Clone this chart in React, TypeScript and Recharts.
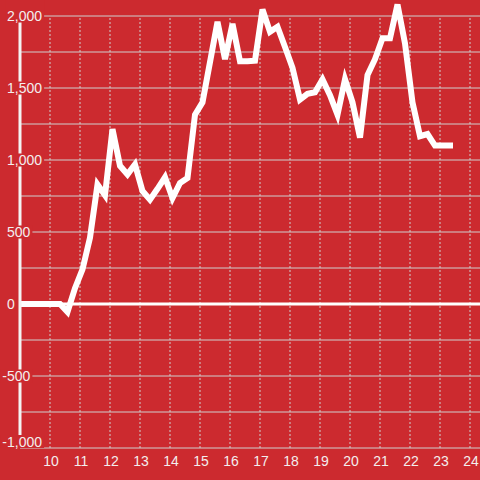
import React from 'react';
import { LineChart, Line, XAxis, YAxis, CartesianGrid, ReferenceLine } from 'recharts';

const BG = '#cc2a2f';
const TEXT = '#f3eeee';
const GRID = '#cfcfcf';
const FONT = '"Liberation Sans", Arial, sans-serif';

// 15-minute readings, hour:minute
const TIMES = [
  '9:05', '9:20', '9:35', '9:50', '10:05', '10:20', '10:35', '10:50',
  '11:05', '11:20', '11:35', '11:50', '12:05', '12:20', '12:35', '12:50',
  '13:05', '13:20', '13:35', '13:50', '14:05', '14:20', '14:35', '14:50',
  '15:05', '15:20', '15:35', '15:50', '16:05', '16:20', '16:35', '16:50',
  '17:05', '17:20', '17:35', '17:50', '18:05', '18:20', '18:35', '18:50',
  '19:05', '19:20', '19:35', '19:50', '20:05', '20:20', '20:35', '20:50',
  '21:05', '21:20', '21:35', '21:50', '22:05', '22:20', '22:35', '22:50',
  '23:05', '23:20',
];

const VALUES = [
  0, 0, 0, 0, 0, 0, -55, 110,
  240, 460, 830, 755, 1215, 960, 900, 970,
  785, 725, 800, 880, 735, 840, 875, 1315,
  1400, 1680, 1960, 1700, 1945, 1685, 1685, 1690,
  2045, 1890, 1925, 1785, 1640, 1420, 1460, 1470,
  1560, 1450, 1315, 1560, 1400, 1155, 1590, 1700,
  1845, 1845, 2080, 1810, 1400, 1165, 1180, 1100,
  1100, 1100,
];

const X_TICKS = [10, 11, 12, 13, 14, 15, 16, 17, 18, 19, 20, 21, 22, 23, 24];
const Y_TICKS = [-1000, -750, -500, -250, 0, 250, 500, 750, 1000, 1250, 1500, 1750, 2000];
const Y_LABEL_STEP = 500;

const toHours = (t: string) => {
  const [h, m] = t.split(':').map(Number);
  return h + m / 60;
};

const data = TIMES.map((t, i) => ({ t: toHours(t), v: VALUES[i] }));

const Y_MIN = Y_TICKS[0];
const Y_MAX = Y_TICKS[Y_TICKS.length - 1];

const YTick = ({ x, y, payload }: any) => {
  const v = payload.value;
  if (v % Y_LABEL_STEP !== 0) return <g />;
  const label = v.toLocaleString('en-US');
  const w = label.replace(/[-,]/g, '').length * 7.8 + (label.match(/,/g) || []).length * 3.9 + (v < 0 ? 4.7 : 0);
  const left = x - 13 - (v < 0 ? 4.7 : 0);
  // bottom label sits above its line, top label box hides the axis overshoot
  const baseline = v === Y_MIN ? y - 1.5 : y + 5;
  const top = v === Y_MAX ? y - 16 : baseline - 11.5;
  const bottom = baseline + 1.5;
  return (
    <g>
      <rect x={left - 1.5} y={top} width={w + 3.5} height={bottom - top} fill={BG} />
      <text x={left} y={baseline} fill={TEXT} fontSize={14} fontFamily={FONT} textAnchor="start">
        {label}
      </text>
    </g>
  );
};

const XTick = ({ x, y, payload }: any) => (
  <text x={x + 1} y={y + 17.5} fill={TEXT} fontSize={14} fontFamily={FONT} textAnchor="middle">
    {payload.value}
  </text>
);

export default function App() {
  return (
    <div style={{ position: 'absolute', left: 0, top: 0, width: 480, height: 480, background: BG }}>
      <LineChart width={480} height={480} data={data} margin={{ top: 1.6, right: 0, bottom: 0, left: 0 }}>
        <CartesianGrid
          horizontal
          vertical={false}
          horizontalValues={Y_TICKS}
          stroke={GRID}
          strokeWidth={1}
        />
        {X_TICKS.map((t) => (
          <ReferenceLine
            key={t}
            segment={[{ x: t, y: Y_MIN }, { x: t, y: Y_MAX }]}
            stroke={GRID}
            strokeDasharray="2 2"
            ifOverflow="visible"
          />
        ))}
        <XAxis
          dataKey="t"
          type="number"
          domain={[9, 24 + 1 / 3]}
          ticks={X_TICKS}
          height={32}
          axisLine={false}
          tickLine={false}
          tickSize={0}
          tickMargin={0}
          tick={<XTick />}
          interval={0}
        />
        <YAxis
          type="number"
          domain={[Y_MIN, 2100]}
          ticks={Y_TICKS}
          width={20}
          axisLine={{ stroke: '#f4f4f4', strokeWidth: 3 }}
          tickLine={false}
          tickSize={0}
          tickMargin={0}
          tick={<YTick />}
          interval={0}
        />
        <ReferenceLine y={0} stroke="#ffffff" strokeWidth={3} />
        <Line
          type="linear"
          dataKey="v"
          stroke="#ffffff"
          strokeWidth={6}
          strokeLinecap="square"
          dot={false}
          activeDot={false}
          isAnimationActive={false}
        />
      </LineChart>
    </div>
  );
}
